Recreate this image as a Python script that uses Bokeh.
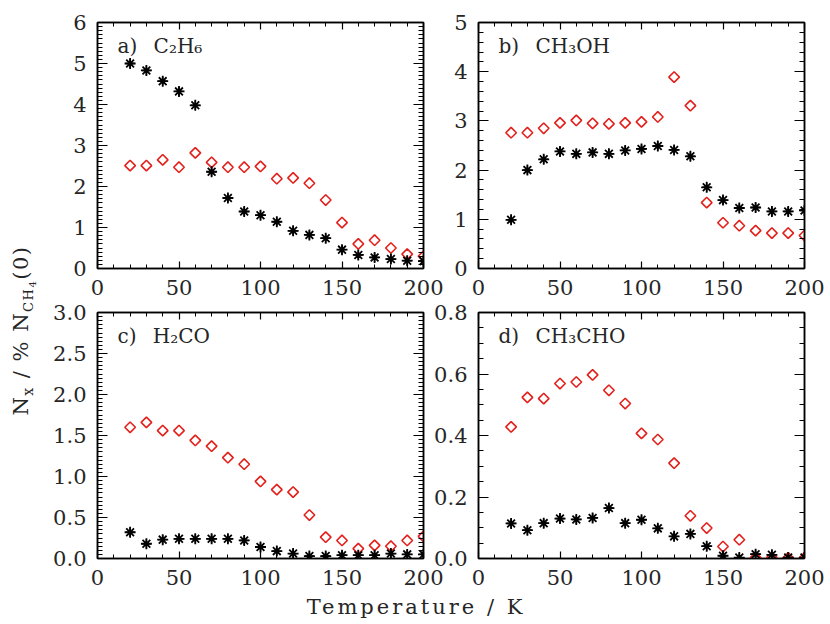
import numpy as np
from bokeh.plotting import figure
from bokeh.models import (SingleIntervalTicker, LinearAxis, PrintfTickFormatter,
                          Label, Range1d, Div, ColumnDataSource)
from bokeh.layouts import row, column
from bokeh.embed import file_html
from bokeh.resources import INLINE

# ---------------- data ----------------
temperature = [20, 30, 40, 50, 60, 70, 80, 90, 100, 110, 120, 130, 140, 150, 160, 170, 180, 190, 200]

c2h6_star = [5.00, 4.83, 4.57, 4.32, 3.98, 2.36, 1.72, 1.39, 1.30, 1.14, 0.92, 0.82, 0.74, 0.46, 0.33, 0.27, 0.23, 0.19, 0.18]
c2h6_diamond = [2.51, 2.51, 2.65, 2.47, 2.82, 2.59, 2.47, 2.47, 2.49, 2.19, 2.21, 2.08, 1.67, 1.12, 0.60, 0.69, 0.50, 0.35, 0.30]

ch3oh_star = [0.99, 2.00, 2.22, 2.38, 2.33, 2.36, 2.33, 2.40, 2.43, 2.49, 2.41, 2.28, 1.65, 1.39, 1.23, 1.24, 1.16, 1.16, 1.18]
ch3oh_diamond = [2.76, 2.76, 2.85, 2.96, 3.01, 2.95, 2.94, 2.96, 2.98, 3.08, 3.89, 3.31, 1.34, 0.93, 0.87, 0.77, 0.72, 0.72, 0.67]

h2co_star = [0.32, 0.18, 0.23, 0.24, 0.24, 0.24, 0.24, 0.22, 0.14, 0.09, 0.06, 0.03, 0.03, 0.04, 0.04, 0.04, 0.06, 0.05, 0.05]
h2co_diamond = [1.60, 1.66, 1.56, 1.56, 1.44, 1.37, 1.23, 1.15, 0.94, 0.84, 0.81, 0.53, 0.26, 0.22, 0.12, 0.16, 0.15, 0.22, 0.27]

ch3cho_star = [0.114, 0.092, 0.115, 0.130, 0.127, 0.132, 0.164, 0.115, 0.126, 0.098, 0.072, 0.080, 0.040, 0.009, 0.003, 0.014, 0.012, 0.003, 0.003]
ch3cho_diamond = [0.428, 0.524, 0.520, 0.569, 0.574, 0.597, 0.547, 0.504, 0.407, 0.387, 0.310, 0.139, 0.099, 0.039, 0.061, 0.003, 0.003, 0.002, 0.002]

SP = "\u2002\u00a0"
panel_labels = ["a)" + SP + "C\u2082H\u2086", "b)" + SP + "CH\u2083OH",
                "c)" + SP + "H\u2082CO", "d)" + SP + "CH\u2083CHO"]
x_label = "Temperature / K"

# ---------------- style ----------------
FONT = "DejaVu Serif"
TXT = "#262626"
RED = "#e3211c"
FW, FH = 326, 246


def style_axis(ax, major_in, minor_in, show_labels):
    ax.major_tick_in = major_in
    ax.major_tick_out = 0
    ax.minor_tick_in = minor_in
    ax.minor_tick_out = 0
    ax.major_tick_line_color = "black"
    ax.minor_tick_line_color = "black"
    ax.major_tick_line_width = 1.2
    ax.minor_tick_line_width = 1.0
    ax.axis_line_color = "black"
    ax.axis_line_width = 1.5
    ax.axis_label = None
    if show_labels:
        ax.major_label_text_font = FONT
        ax.major_label_text_font_size = "21px"
        ax.major_label_text_color = TXT
        ax.major_label_standoff = 11
    else:
        ax.major_label_text_font_size = "0px"
        ax.major_label_text_color = None
        ax.major_label_standoff = 0


def make_panel(ymax, yint, yminor, fmt, label, star, diamond, borders, margin):
    l, r, t, b = borders
    p = figure(frame_width=FW, frame_height=FH,
               x_range=Range1d(0, 200), y_range=Range1d(0, ymax),
               x_axis_location=None, y_axis_location=None,
               output_backend="svg", toolbar_location=None,
               min_border_left=l, min_border_right=r,
               min_border_top=t, min_border_bottom=b, margin=margin)
    p.outline_line_color = "black"
    p.outline_line_width = 1.5
    p.grid.visible = False
    p.border_fill_color = None

    for loc in ("below", "above"):
        ax = LinearAxis(ticker=SingleIntervalTicker(interval=50, num_minor_ticks=5))
        style_axis(ax, 7, 4, loc == "below")
        p.add_layout(ax, loc)
    for loc in ("left", "right"):
        ax = LinearAxis(ticker=SingleIntervalTicker(interval=yint, num_minor_ticks=yminor),
                        formatter=PrintfTickFormatter(format=fmt))
        style_axis(ax, 10, 5, loc == "left")
        p.add_layout(ax, loc)

    src = ColumnDataSource(dict(t=temperature, star=star, dia=diamond))
    p.scatter("t", "dia", source=src, marker="square", angle=np.pi / 4, size=7.5,
              fill_color=None, line_color=RED, line_width=1.6)
    p.scatter("t", "star", source=src, marker="asterisk", size=11,
              line_color="black", line_width=1.8)
    p.scatter("t", "star", source=src, marker="cross", size=9,
              line_color="black", line_width=1.4)

    p.add_layout(Label(x=0, y=ymax, x_offset=20, y_offset=-11, text=label,
                       text_font=FONT, text_font_size="20px", text_color=TXT,
                       text_baseline="top", text_align="left"))
    return p


pa = make_panel(6, 1, 10, "%d", panel_labels[0], c2h6_star, c2h6_diamond,
                (53, 22, 22, 38), (0, 0, 0, 0))
pb = make_panel(5, 1, 5, "%d", panel_labels[1], ch3oh_star, ch3oh_diamond,
                (51, 20, 22, 38), (0, 0, 0, -18))
pc = make_panel(3, 0.5, 10, "%.1f", panel_labels[2], h2co_star, h2co_diamond,
                (53, 22, 14, 37), (0, 0, 0, 0))
pd = make_panel(0.8, 0.2, 4, "%.1f", panel_labels[3], ch3cho_star, ch3cho_diamond,
                (51, 20, 14, 37), (0, 0, 0, -18))

ylab_html = (
    '<div style="width:44px;height:619px;display:flex;align-items:center;'
    'justify-content:center;overflow:hidden;">'
    '<div style="transform:rotate(-90deg);white-space:nowrap;font-family:\'DejaVu Serif\';'
    'font-size:21px;letter-spacing:1.5px;color:#262626;position:relative;top:21px;left:1px;">'
    'N<sub style="font-size:14px">x</sub> / % N<sub style="font-size:13px">CH'
    '<sub style="font-size:10px">4</sub></sub>(0)</div></div>'
)
ylab = Div(text=ylab_html, width=44, height=619, margin=0)

xlab_html = (
    '<div style="width:744px;text-align:center;font-family:\'DejaVu Serif\';font-size:21px;'
    'letter-spacing:3px;color:#262626;line-height:24px;white-space:nowrap;">'
    + x_label + '</div>'
)
xlab = Div(text=xlab_html, width=780, height=24, margin=0)

row1 = row(pa, pb)
row2 = row(pc, pd, margin=(-8, 0, 0, 0))
layout = row(ylab, column(row1, row2, xlab))

open("out.html", "w").write(file_html(layout, INLINE))
